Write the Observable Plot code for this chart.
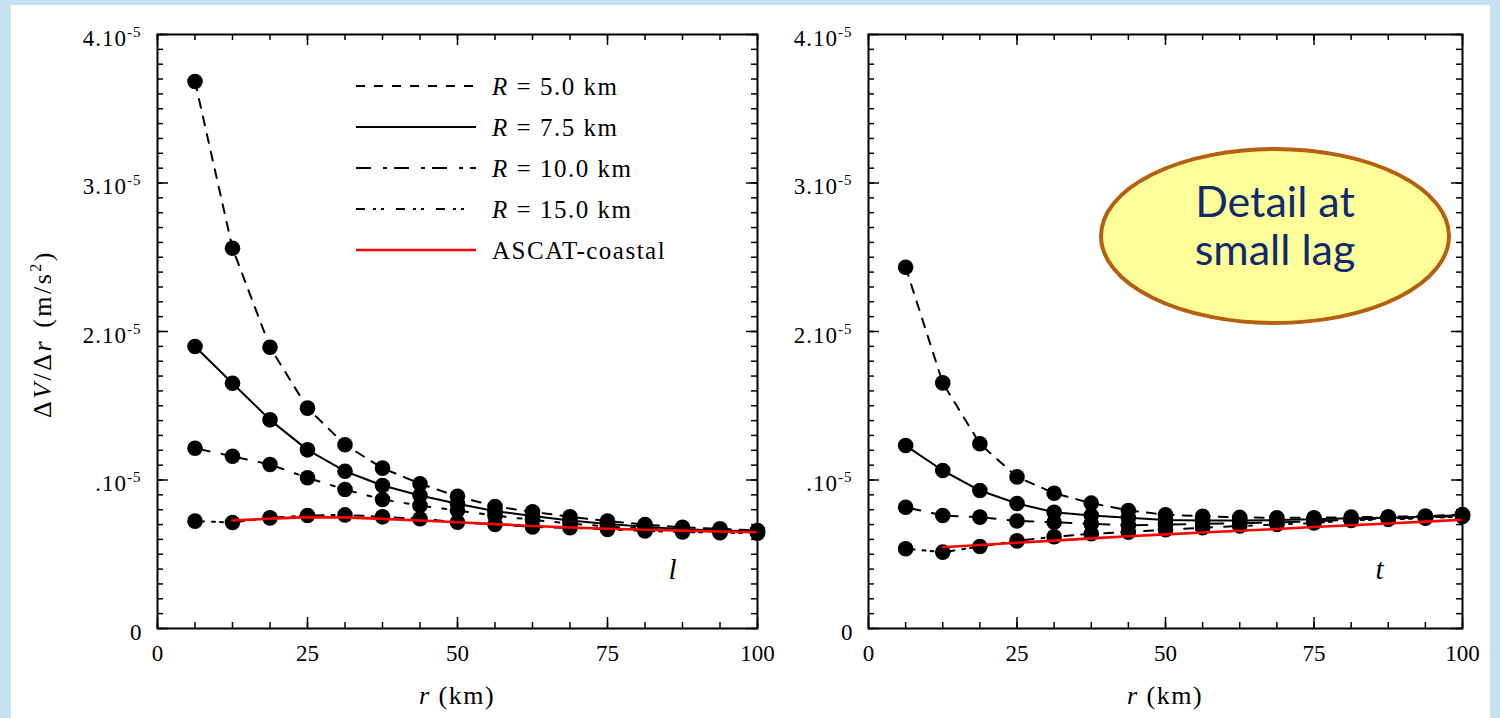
<!DOCTYPE html>
<html>
<head>
<meta charset="utf-8">
<script src="https://cdn.jsdelivr.net/npm/d3@7"></script>
<script src="https://cdn.jsdelivr.net/npm/@observablehq/plot@0.6"></script>
<style>
html,body{margin:0;padding:0;background:#c5e1f2;}
#wrap{position:relative;width:1500px;height:718px;background:#c5e1f2;overflow:hidden;}
#sheet{position:absolute;left:11px;top:5px;width:1479px;height:713px;background:#fff;}
.pl{position:absolute;top:0;}
#ov{position:absolute;left:0;top:0;pointer-events:none;}
</style>
</head>
<body>
<div id="wrap">
  <div id="sheet"></div>
  <div id="pL" class="pl" style="left:0px"></div>
  <div id="pR" class="pl" style="left:790px"></div>
  <svg id="ov" width="1500" height="718"></svg>
</div>
<script>
// ---------- data (values in units of 1e-5 m/s^2) ----------
const lag = [6.25, 12.5, 18.75, 25, 31.25, 37.5, 43.75, 50, 56.25, 62.5, 68.75, 75, 81.25, 87.5, 93.75, 100];
const ascatLag = [12.5, 18.75, 25, 31.25, 37.5, 43.75, 50, 56.25, 62.5, 68.75, 75, 81.25, 87.5, 93.75, 100];
const seriesNames = ["R = 5.0 km", "R = 7.5 km", "R = 10.0 km", "R = 15.0 km"];
const ascatName = "ASCAT-coastal";

// longitudinal (l)
const lR5  = [3.684, 2.561, 1.894, 1.484, 1.237, 1.080, 0.975, 0.890, 0.822, 0.786, 0.752, 0.723, 0.700, 0.681, 0.671, 0.660];
const lR75 = [1.899, 1.652, 1.405, 1.203, 1.059, 0.963, 0.896, 0.840, 0.790, 0.758, 0.727, 0.703, 0.686, 0.669, 0.660, 0.655];
const lR10 = [1.214, 1.160, 1.104, 1.015, 0.936, 0.869, 0.828, 0.795, 0.760, 0.732, 0.707, 0.687, 0.672, 0.660, 0.652, 0.648];
const lR15 = [0.723, 0.714, 0.745, 0.761, 0.765, 0.752, 0.739, 0.716, 0.700, 0.684, 0.678, 0.667, 0.657, 0.650, 0.645, 0.642];
const lAscat = [0.727, 0.740, 0.750, 0.748, 0.738, 0.727, 0.715, 0.703, 0.690, 0.680, 0.672, 0.665, 0.659, 0.653, 0.648];

// transverse (t)
const tR5  = [2.433, 1.654, 1.244, 1.021, 0.911, 0.844, 0.795, 0.766, 0.756, 0.748, 0.745, 0.745, 0.750, 0.752, 0.757, 0.768];
const tR75 = [1.232, 1.064, 0.929, 0.842, 0.783, 0.761, 0.745, 0.730, 0.728, 0.728, 0.730, 0.735, 0.742, 0.746, 0.753, 0.765];
const tR10 = [0.817, 0.761, 0.750, 0.724, 0.716, 0.705, 0.694, 0.700, 0.705, 0.710, 0.715, 0.720, 0.735, 0.740, 0.748, 0.760];
const tR15 = [0.537, 0.514, 0.552, 0.590, 0.618, 0.638, 0.649, 0.665, 0.678, 0.690, 0.700, 0.710, 0.728, 0.735, 0.742, 0.755];
const tAscat = [0.547, 0.562, 0.577, 0.592, 0.607, 0.621, 0.634, 0.646, 0.658, 0.670, 0.683, 0.695, 0.707, 0.720, 0.732];

// ticks and labels
const xMajor = [0, 25, 50, 75, 100];
const xMinor = d3.range(0, 100.001, 6.25);
const yMajor = [0, 1, 2, 3, 4];
const yMinor = d3.range(0, 4.0001, 0.1);
const yTickMant = ["0", ".10", "2.10", "3.10", "4.10"];
const yTickExp  = ["", "-5", "-5", "-5", "-5"];
const panelTags = ["l", "t"];
const noteLines = ["Detail at", "small lag"];

// ---------- styles ----------
const seriesDash = ["9,9", null, "15,12,4,7", "9,8,3,5,3,12"];
const SERIF = "'Liberation Serif','Times New Roman',serif";
const H = 718, MT = 34, MB = 90;

function makePanel(series, ascat, tag, W, ML, MR, tagDx) {
  const innerW = W - ML - MR, innerH = H - MT - MB;
  const rows = series.flatMap((vals, i) => vals.map((v, j) => ({r: lag[j], v, s: i})));
  const asc = ascatLag.map((r, j) => ({r, v: ascat[j]}));
  const marks = [];
  series.forEach((vals, i) => {
    marks.push(Plot.line(rows.filter(d => d.s === i), {
      x: "r", y: "v", stroke: "black", strokeWidth: 2,
      strokeDasharray: seriesDash[i] || undefined
    }));
  });
  marks.push(Plot.dot(rows, {x: "r", y: "v", r: 7.8, fill: "black", stroke: "none"}));
  marks.push(Plot.line(asc, {x: "r", y: "v", stroke: "#ff0000", strokeWidth: 2.6}));
  // inward ticks on all four sides
  marks.push(Plot.tickX(xMinor, {x: d => d, insetTop: innerH - 6, stroke: "black", strokeWidth: 1.5}));
  marks.push(Plot.tickX(xMinor, {x: d => d, insetBottom: innerH - 6, stroke: "black", strokeWidth: 1.5}));
  marks.push(Plot.tickX(xMajor, {x: d => d, insetTop: innerH - 11, stroke: "black", strokeWidth: 1.5}));
  marks.push(Plot.tickX(xMajor, {x: d => d, insetBottom: innerH - 11, stroke: "black", strokeWidth: 1.5}));
  marks.push(Plot.tickY(yMinor, {y: d => d, insetRight: innerW - 6, stroke: "black", strokeWidth: 1.5}));
  marks.push(Plot.tickY(yMinor, {y: d => d, insetLeft: innerW - 6, stroke: "black", strokeWidth: 1.5}));
  marks.push(Plot.tickY(yMajor, {y: d => d, insetRight: innerW - 11, stroke: "black", strokeWidth: 1.5}));
  marks.push(Plot.tickY(yMajor, {y: d => d, insetLeft: innerW - 11, stroke: "black", strokeWidth: 1.5}));
  marks.push(Plot.frame({stroke: "black", strokeWidth: 2}));
  marks.push(Plot.axisX({ticks: xMajor, tickSize: 0, tickPadding: 16, fontSize: 23, label: null,
    tickFormat: d => String(d)}));
  marks.push(Plot.axisY({ticks: yMajor, tickSize: 0, tickPadding: 16, fontSize: 23, label: null, dy: 4,
    tickFormat: d => { const i = yMajor.indexOf(d); return yTickMant[i] + (yTickExp[i] ? "^" + yTickExp[i] : ""); }}));
  marks.push(Plot.text([tag], {text: d => d, frameAnchor: "bottom-right", dx: tagDx, dy: -50,
    fontSize: 29, fontStyle: "italic", fill: "black"}));
  const svg = Plot.plot({
    width: W, height: H,
    marginLeft: ML, marginRight: MR, marginTop: MT, marginBottom: MB,
    x: {domain: [0, 100]},
    y: {domain: [0, 4]},
    style: {fontFamily: SERIF, fontSize: "23px", background: "transparent", color: "black", overflow: "visible", maxWidth: "none"},
    marks
  });
  // superscript exponents on y tick labels
  d3.select(svg).selectAll('g[aria-label="y-axis tick label"] text').each(function () {
    const parts = this.textContent.split("^");
    if (parts.length > 1) {
      this.textContent = parts[0];
      d3.select(this).attr("letter-spacing", 1);
      d3.select(this).append("tspan").attr("font-size", 15).attr("dy", "-0.6em").text(parts[1]);
    }
  });
  return svg;
}

document.getElementById("pL").appendChild(
  makePanel([lR5, lR75, lR10, lR15], lAscat, panelTags[0], 790, 157, 33, -81));
document.getElementById("pR").appendChild(
  makePanel([tR5, tR75, tR10, tR15], tAscat, panelTags[1], 710, 78, 38, -79));

// ---------- overlay: axis titles, legend, note ----------
const ov = d3.select("#ov");
// y-axis title
const yt = ov.append("text")
  .attr("transform", "translate(51,334) rotate(-90)")
  .attr("text-anchor", "middle")
  .attr("font-family", SERIF).attr("font-size", 26).attr("letter-spacing", 2.5).attr("word-spacing", 2)
  .attr("fill", "black");
yt.append("tspan").text("Δ");
yt.append("tspan").attr("font-style", "italic").text("V");
yt.append("tspan").text("/Δ");
yt.append("tspan").attr("font-style", "italic").text("r");
yt.append("tspan").text(" (m/s");
yt.append("tspan").attr("font-size", 16).attr("dy", "-0.6em").text("2");
yt.append("tspan").attr("dy", "0.4em").text(")");

// x-axis titles
[457, 1165].forEach(cx => {
  const t = ov.append("text").attr("x", cx).attr("y", 704).attr("text-anchor", "middle")
    .attr("font-family", SERIF).attr("font-size", 26).attr("letter-spacing", 1.5).attr("fill", "black");
  t.append("tspan").attr("font-style", "italic").text("r");
  t.append("tspan").text(" (km)");
});

// legend
const legendItems = seriesNames.map((n, i) => ({name: n, dash: seriesDash[i], color: "black", w: 2}))
  .concat([{name: ascatName, dash: null, color: "#ff0000", w: 2.6}]);
const lg = ov.append("g");
legendItems.forEach((it, i) => {
  const y = 86 + i * 41;
  lg.append("line").attr("x1", 356).attr("x2", 476).attr("y1", y).attr("y2", y)
    .attr("stroke", it.color).attr("stroke-width", it.w)
    .attr("stroke-dasharray", it.dash);
  const t = lg.append("text").attr("x", 492).attr("y", y + 9)
    .attr("font-family", SERIF).attr("font-size", 25).attr("letter-spacing", 1.5).attr("fill", "black");
  if (it.name.startsWith("R ")) {
    t.append("tspan").attr("font-style", "italic").text("R");
    t.append("tspan").text(it.name.slice(1));
  } else {
    t.text(it.name);
  }
});

// note ellipse
ov.append("ellipse").attr("cx", 1275).attr("cy", 236).attr("rx", 174).attr("ry", 87)
  .attr("fill", "#ffff99").attr("stroke", "#b5600f").attr("stroke-width", 4);
noteLines.forEach((s, i) => {
  ov.append("text").attr("x", 1275).attr("y", 217 + i * 48).attr("text-anchor", "middle")
    .attr("font-family", "Lato, 'Open Sans', sans-serif").attr("font-size", 43)
    .attr("fill", "#0f2a6e").text(s);
});
</script>
</body>
</html>
